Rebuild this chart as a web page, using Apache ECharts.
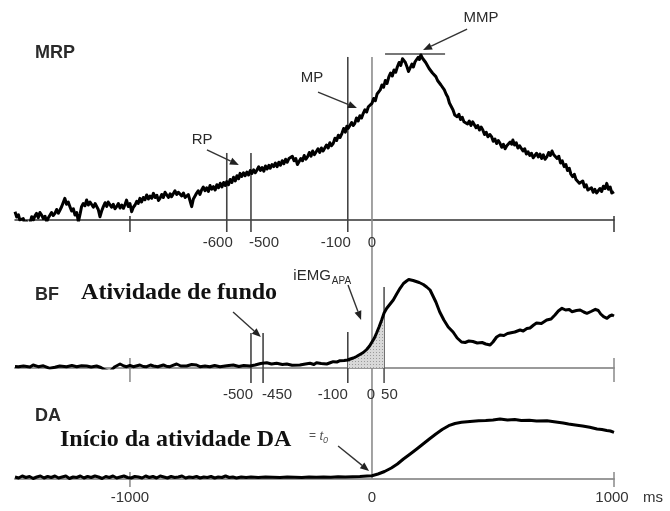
<!DOCTYPE html>
<html><head><meta charset="utf-8">
<script src="https://cdn.jsdelivr.net/npm/echarts@6/dist/echarts.min.js"></script>
<style>html,body{margin:0;padding:0;background:#fff}#c{width:670px;height:511px}</style>
</head><body><div id="c"></div>
<script>
// ---------- DATA (time in ms, amplitude in arbitrary units) ----------
const timeMin = -1475, timeMax = 1000;
const frameTicks = [-1000, 1000];

const mrpData = [[-1475,0.55],[-1468,0.2],[-1461,0.35],[-1455,0.0],[-1448,-0.1],[-1441,0.1],[-1434,-0.33],[-1427,-0.1],[-1420,-0.87],[-1413,-0.2],[-1406,0.22],[-1399,0.0],[-1392,0.3],[-1386,0.44],[-1379,0.15],[-1372,0.5],[-1365,0.33],[-1358,0.1],[-1351,0.25],[-1344,-0.11],[-1337,0.15],[-1331,0.22],[-1324,0.5],[-1317,0.3],[-1310,0.44],[-1303,0.7],[-1296,0.45],[-1289,0.67],[-1282,0.9],[-1275,0.8],[-1269,1.44],[-1262,1.05],[-1255,1.2],[-1248,0.89],[-1241,0.6],[-1234,0.75],[-1227,0.33],[-1220,0.5],[-1213,-0.11],[-1206,0.4],[-1200,0.89],[-1193,1.1],[-1186,0.95],[-1179,1.33],[-1172,1.0],[-1165,1.2],[-1158,1.11],[-1151,0.85],[-1144,1.1],[-1138,1.0],[-1131,0.7],[-1124,0.22],[-1117,0.6],[-1110,0.89],[-1103,1.15],[-1096,0.9],[-1090,1.2],[-1083,1.11],[-1076,0.85],[-1069,1.05],[-1062,0.75],[-1055,0.89],[-1048,1.1],[-1041,0.8],[-1034,1.0],[-1027,0.78],[-1020,1.05],[-1014,1.33],[-1007,0.9],[-1000,1.1],
[-993,0.55],[-986,0.85],[-979,1.0],[-972,1.25],[-966,1.1],[-959,1.44],[-952,1.2],[-945,1.5],[-938,1.35],[-931,1.67],[-924,1.4],[-917,1.6],[-910,1.45],[-903,1.78],[-896,1.5],[-889,1.65],[-882,1.3],[-876,1.44],[-869,1.7],[-862,1.5],[-855,1.85],[-848,1.78],[-841,1.5],[-834,1.75],[-828,1.55],[-821,1.67],[-814,1.95],[-807,1.7],[-800,1.85],[-793,1.89],[-786,1.6],[-779,1.8],[-772,1.5],[-766,1.44],[-759,1.7],[-752,1.3],[-745,0.89],[-738,1.4],[-731,1.6],[-725,1.78],[-718,1.95],[-711,1.7],[-704,2.0],
[-697,2.2],[-690,1.95],[-683,2.15],[-676,1.9],[-669,2.3],[-662,2.05],[-655,2.22],[-648,2.0],[-641,2.35],[-634,2.15],[-627,2.45],[-620,2.2],[-613,2.5],[-606,2.3],[-600,2.56],[-593,2.35],[-586,2.7],[-579,2.5],[-572,2.85],[-565,2.6],[-558,2.95],[-551,2.75],[-545,3.11],
[-538,2.9],[-531,3.15],[-524,2.95],[-517,3.2],[-510,3.0],[-503,3.3],[-496,3.1],[-489,3.35],[-482,3.15],[-475,3.33],[-468,3.55],[-461,3.3],[-454,3.5],[-447,3.25],[-440,3.6],[-433,3.4],[-426,3.65],[-420,3.45],[-413,3.7],[-406,3.56],[-399,3.8],[-392,3.55],[-385,3.85],[-378,3.65],[-371,3.95],[-364,3.75],[-357,4.05],[-350,3.85],[-343,4.1],[-336,4.0],[-329,4.25],[-322,3.95],[-315,4.1],[-308,3.7],[-301,3.78],
[-294,4.1],[-287,3.95],[-280,4.3],[-273,4.05],[-266,4.22],[-259,4.5],[-252,4.25],[-245,4.6],[-238,4.35],[-230,4.44],[-223,4.75],[-216,4.5],[-209,4.8],[-202,4.6],[-195,4.67],[-188,5.0],[-181,4.8],[-174,5.15],[-167,4.95],[-160,5.11],[-153,5.45],[-146,5.3],[-139,5.65],[-132,5.5],[-124,5.78],[-117,6.1],[-110,5.85],[-104,6.25],[-98,6.11],[-91,6.05],[-84,6.5],[-77,6.3],[-71,6.44],[-64,6.8],[-57,6.6],[-50,6.95],[-43,6.8],[-36,7.11],[-29,7.35],[-22,7.2],[-15,7.55],[-8,7.45],[0,7.78],
[7,8.1],[14,7.95],[21,8.4],[28,8.3],[34,8.67],[41,9.0],[48,8.85],[55,9.3],[62,9.1],[70,9.56],[77,9.8],[84,9.6],[91,10.0],[98,9.85],[105,10.22],[112,10.5],[119,10.3],[126,10.75],[132,10.78],[138,10.5],[145,10.2],[151,9.9],[158,10.0],[165,10.4],[171,10.2],[178,10.55],[185,10.67],[191,10.85],[196,10.7],[202,11.0],
[208,10.8],[215,10.85],[222,10.5],[229,10.44],[236,10.1],[243,10.2],[250,9.8],[257,9.85],[264,9.56],[271,9.3],[278,9.4],[285,9.0],[292,9.05],[299,8.67],[306,8.4],[313,8.2],[320,7.8],[328,7.7],[335,7.33],[342,7.0],[352,6.89],[359,7.05],[366,6.7],[373,6.85],[380,6.55],[388,6.67],[395,6.4],[402,6.6],[409,6.3],[416,6.55],[423,6.44],[430,6.15],[437,6.3],[444,6.0],[451,6.2],[458,6.0],[465,5.7],[472,5.85],[479,5.55],[487,5.7],[494,5.56],[501,5.25],[508,5.4],[515,5.1],[522,5.3],[529,5.11],[536,4.85],[543,5.05],[550,4.75],[557,4.95],[564,4.89],[571,5.2],[577,5.05],[582,5.33],[589,5.0],[596,5.15],[603,4.8],[610,4.95],[617,4.89],[624,4.6],[631,4.75],[638,4.4],[645,4.55],[652,4.3],[659,4.45],[666,4.15],[673,4.22],[680,4.45],[687,4.2],[694,4.4],[701,4.1],[708,4.35],[715,4.05],[723,4.22],[730,4.5],[737,4.3],[744,4.6],[751,4.35],[758,4.44],[765,4.1],[772,4.25],[779,3.8],[786,3.95],[794,3.56],[801,3.7],[808,3.3],[815,3.45],[822,3.05],[829,2.89],[836,3.05],[843,2.7],[850,2.8],[857,2.45],[864,2.44],[871,2.6],[878,2.2],[885,2.35],[892,2.0],[900,2.0],[907,2.15],[914,1.85],[921,2.05],[928,1.8],[935,1.89],[942,2.1],[949,1.9],[956,2.25],[963,2.1],[970,2.44],[977,2.05],[984,2.2],[991,1.8],[1000,1.89]];

const bfData = [[-1475,0.15],[-1461,0.13],[-1440,0.2],[-1413,0.1],[-1400,0.3],[-1379,0.13],[-1358,0.22],[-1331,-0.03],[-1310,0.07],[-1290,0.2],[-1262,0.13],[-1240,0.25],[-1220,0.12],[-1200,0.22],[-1179,0.2],[-1160,0.1],[-1138,0.2],[-1120,0.05],[-1103,-0.2],[-1083,-0.35],[-1062,0.13],[-1041,0.4],[-1025,0.2],[-1014,0.13],[-1000,0.25],[-986,0.13],[-959,0.3],[-945,0.15],[-931,0.13],[-915,0.3],[-903,0.2],[-885,0.12],[-862,0.3],[-850,0.18],[-835,0.13],[-820,0.28],[-807,0.4],[-790,0.2],[-766,0.2],[-745,0.35],[-725,0.3],[-711,0.13],[-690,0.2],[-670,0.12],[-650,0.25],[-628,0.13],[-600,0.22],[-573,0.3],[-550,0.15],[-530,0.25],[-504,0.2],[-483,0.3],[-460,0.45],[-435,0.53],[-415,0.4],[-394,0.47],[-370,0.35],[-352,0.4],[-330,0.28],[-298,0.3],[-275,0.4],[-256,0.47],[-240,0.35],[-229,0.53],[-210,0.45],[-187,0.4],[-170,0.55],[-160,0.63],[-145,0.6],[-132,0.73],[-115,0.75],[-100,0.8],[-90,0.9],[-77,1.0],[-64,1.15],[-50,1.35],[-36,1.55],[-22,1.85],[-10,2.2],[0,2.6],[10,3.0],[19,3.5],[30,4.15],[40,4.8],[50,5.5],[61,5.97],[75,6.4],[88,6.8],[102,7.4],[116,7.97],[130,8.45],[143,8.7],[152,8.85],[160,8.8],[170,8.75],[178,8.6],[195,8.55],[212,8.35],[226,8.1],[240,7.8],[252,7.2],[264,6.6],[280,5.6],[297,4.8],[315,4.1],[335,3.6],[352,3.0],[370,2.6],[385,2.55],[400,2.7],[417,2.65],[435,2.5],[455,2.55],[470,2.4],[488,2.3],[500,2.6],[515,3.1],[529,3.3],[545,3.25],[560,3.45],[570,3.5],[590,3.6],[612,3.8],[625,3.7],[640,3.95],[653,4.0],[668,4.3],[680,4.5],[700,4.45],[722,4.8],[740,4.9],[756,5.3],[770,5.7],[785,5.97],[800,5.8],[815,5.85],[826,5.63],[845,5.75],[860,5.8],[875,5.6],[888,5.47],[905,5.65],[923,5.87],[935,5.75],[945,5.4],[957,5.13],[965,5.05],[971,4.97],[982,5.2],[992,5.3],[1000,5.2]];

const daData = [[-1475,0.2],[-1460,0.1],[-1445,0.3],[-1430,0.15],[-1415,0.25],[-1400,0.05],[-1385,0.2],[-1370,0.3],[-1355,0.1],[-1340,0.25],[-1325,0.15],[-1310,0.3],[-1295,0.1],[-1280,0.2],[-1265,0.3],[-1250,0.05],[-1235,0.2],[-1220,0.15],[-1205,0.3],[-1190,0.1],[-1175,0.25],[-1160,0.15],[-1145,0.3],[-1130,0.2],[-1115,0.05],[-1100,0.25],[-1085,0.15],[-1070,0.3],[-1055,0.1],[-1040,0.2],[-1025,0.3],[-1010,0.15],[-995,0.1],[-980,0.25],[-965,0.2],[-950,0.1],[-935,0.3],[-920,0.15],[-905,0.25],[-890,0.1],[-875,0.3],[-860,0.2],[-845,0.1],[-830,0.25],[-815,0.15],[-800,0.2],[-785,0.3],[-770,0.1],[-755,0.2],[-740,0.15],[-725,0.25],[-710,0.1],[-695,0.2],[-680,0.15],[-665,0.25],[-650,0.1],[-635,0.2],[-620,0.15],[-605,0.3],[-590,0.15],[-575,0.2],[-560,0.1],[-540,0.2],[-520,0.15],[-500,0.2],[-470,0.15],[-440,0.2],[-410,0.18],[-380,0.15],[-350,0.2],[-320,0.18],[-290,0.15],[-260,0.2],[-230,0.17],[-200,0.2],[-170,0.18],[-140,0.22],[-110,0.2],[-80,0.22],[-50,0.25],[-20,0.3],[0,0.33],[25,0.5],[52,0.75],[80,1.1],[105,1.5],[130,2.0],[158,2.5],[185,3.0],[211,3.5],[237,4.0],[264,4.5],[290,4.95],[317,5.33],[343,5.55],[370,5.67],[405,5.75],[441,5.83],[470,5.85],[500,5.9],[529,6.0],[560,5.9],[590,5.95],[617,5.85],[650,5.88],[680,5.8],[723,5.83],[760,5.7],[790,5.6],[812,5.5],[840,5.4],[870,5.3],[900,5.17],[930,5.0],[950,4.95],[970,4.85],[985,4.8],[1000,4.67]];

const mrpMarkers = [-600, -500, -100, 0];
const mrpMarkerLabels = ['-600', '-500', '-100', '0'];
const bfMarkers = [-500, -450, -100, 0, 50];
const bfMarkerLabels = ['-500', '-450', '-100', '0', '50'];
const daTicks = [-1000, 0, 1000];
const daTickLabels = ['-1000', '0', '1000'];
const apaWindow = [-100, 50];
const mmpLevel = 11.07;
const mmpSpan = [54, 302];

// ---------- STYLE / ANNOTATION LAYOUT ----------
const SANS = '"Liberation Sans", Arial, sans-serif';
const SERIF = '"Liberation Serif", "Times New Roman", serif';
const DARK = '#2a2a2a';
const LABEL_SIZE = 15;

function coordSeg(api, a, b, color, w) {
  const p = api.coord(a), q = api.coord(b);
  return { type: 'line', shape: { x1: p[0], y1: p[1], x2: q[0], y2: q[1] }, style: { stroke: color, lineWidth: w } };
}
function pixSeg(x1, y1, x2, y2, color, w) {
  return { type: 'line', shape: { x1, y1, x2, y2 }, style: { stroke: color, lineWidth: w } };
}
function arrow(api, a, b) {
  const p = api.coord(a), q = api.coord(b);
  const dx = q[0] - p[0], dy = q[1] - p[1], L = Math.hypot(dx, dy), ux = dx / L, uy = dy / L;
  const hl = 9, hw = 3.6, bx = q[0] - ux * hl, by = q[1] - uy * hl;
  return [
    { type: 'line', shape: { x1: p[0], y1: p[1], x2: bx, y2: by }, style: { stroke: '#333', lineWidth: 1.4 } },
    { type: 'polygon', shape: { points: [[q[0], q[1]], [bx - uy * hw, by + ux * hw], [bx + uy * hw, by - ux * hw]] }, style: { fill: '#222' } }
  ];
}
function txt(x, y, text, o) {
  return { type: 'text', style: Object.assign({ text, x, y, fill: DARK, fontFamily: SANS, fontSize: LABEL_SIZE, align: 'center', verticalAlign: 'middle' }, o || {}) };
}
const measureCtx = document.createElement('canvas').getContext('2d');
function textW(t, font) { measureCtx.font = font; return measureCtx.measureText(t).width; }

function frameTicksEls(api, up, down, color) {
  return frameTicks.map(t => { const p = api.coord([t, 0]); return pixSeg(p[0], p[1] - up, p[0], p[1] + down, color, 1.5); });
}
function markerLabels(api, values, labels, dy, layout) {
  return values.map((t, i) => {
    const p = api.coord([t, 0]);
    const l = layout[i];
    return txt(p[0] + l.dx, p[1] + dy, labels[i], { align: l.align, fill: '#333' });
  });
}

function renderMRP(params, api) {
  const ch = [];
  const tops = [4.47, 4.47, 10.87];
  [0, 1, 2].forEach(i => ch.push(coordSeg(api, [mrpMarkers[i], tops[i]], [mrpMarkers[i], -0.8], '#444', 1.6)));
  ch.push(coordSeg(api, [0, 10.87], [0, -3.2], '#8c8c8c', 1.6));
  ch.push(coordSeg(api, [mmpSpan[0], mmpLevel], [mmpSpan[1], mmpLevel], '#777', 2));
  ch.push(...frameTicksEls(api, 4, 12, '#333'));
  ch.push(...markerLabels(api, mrpMarkers, mrpMarkerLabels, 23, [
    { dx: 6, align: 'right' }, { dx: -2, align: 'left' }, { dx: -12, align: 'center' }, { dx: 0, align: 'center' }]));
  let p = api.coord([-1392, 11.13]);
  ch.push(txt(p[0], p[1], 'MRP', { align: 'left', fontWeight: 'bold', fontSize: 18 }));
  p = api.coord([-702, 5.33]); ch.push(txt(p[0], p[1], 'RP'));
  p = api.coord([-248, 9.47]); ch.push(txt(p[0], p[1], 'MP'));
  p = api.coord([450, 13.47]); ch.push(txt(p[0], p[1], 'MMP'));
  ch.push(...arrow(api, [-682, 4.67], [-550, 3.67]));
  ch.push(...arrow(api, [-223, 8.53], [-62, 7.47]));
  ch.push(...arrow(api, [393, 12.73], [211, 11.33]));
  return { type: 'group', children: ch };
}
function renderBF(params, api) {
  const ch = [];
  const tops = [3.5, 3.5, 3.6, 8.1];
  [0, 1, 2].forEach(i => ch.push(coordSeg(api, [bfMarkers[i], tops[i]], [bfMarkers[i], -1.5], '#444', 1.6)));
  ch.push(coordSeg(api, [bfMarkers[4], tops[3]], [bfMarkers[4], -1.5], '#555', 1.6));
  ch.push(coordSeg(api, [0, 10], [0, -4.1], '#8c8c8c', 1.6));
  ch.push(...frameTicksEls(api, 10, 14, '#888'));
  ch.push(...markerLabels(api, bfMarkers, bfMarkerLabels, 27, [
    { dx: 2, align: 'right' }, { dx: -1, align: 'left' }, { dx: -15, align: 'center' }, { dx: -1, align: 'center' }, { dx: -3, align: 'left' }]));
  let p = api.coord([-1392, 7.3]);
  ch.push(txt(p[0], p[1], 'BF', { align: 'left', fontWeight: 'bold', fontSize: 18 }));
  p = api.coord([-1202, 7.5]);
  ch.push(txt(p[0], p[1], 'Atividade de fundo', { align: 'left', fontWeight: 'bold', fontSize: 24, fontFamily: SERIF, fill: '#111' }));
  ch.push(...arrow(api, [-574, 5.6], [-459, 3.1]));
  p = api.coord([-325, 9.2]);
  const w1 = textW('iEMG', LABEL_SIZE + 'px ' + SANS);
  ch.push(txt(p[0], p[1], 'iEMG', { align: 'left' }));
  ch.push(txt(p[0] + w1 + 1, p[1] + 5, 'APA', { align: 'left', fontSize: 10 }));
  ch.push(...arrow(api, [-99, 8.3], [-45, 4.8]));
  return { type: 'group', children: ch };
}
function renderDA(params, api) {
  const ch = [];
  ch.push(coordSeg(api, [0, 7], [0, 0], '#8c8c8c', 1.6));
  ch.push(...frameTicksEls(api, 7, 8, '#888'));
  ch.push(...markerLabels(api, daTicks, daTickLabels, 19, [
    { dx: 0, align: 'center' }, { dx: 0, align: 'center' }, { dx: -2, align: 'center' }]));
  let p = api.coord([timeMax, 0]);
  ch.push(txt(p[0] + 29, p[1] + 19, 'ms', { align: 'left', fill: '#333' }));
  p = api.coord([-1392, 6.3]);
  ch.push(txt(p[0], p[1], 'DA', { align: 'left', fontWeight: 'bold', fontSize: 18 }));
  p = api.coord([-1289, 3.9]);
  ch.push(txt(p[0], p[1], 'Início da atividade DA', { align: 'left', fontWeight: 'bold', fontSize: 24, fontFamily: SERIF, fill: '#111' }));
  p = api.coord([-260, 4.3]);
  const we = textW('= ', '12px ' + SANS);
  ch.push(txt(p[0], p[1], '= ', { align: 'left', fontSize: 12, fill: '#555' }));
  const wt = textW('t', 'italic 13px ' + SANS);
  ch.push(txt(p[0] + we, p[1], 't', { align: 'left', fontSize: 13, fontStyle: 'italic', fill: '#555' }));
  ch.push(txt(p[0] + we + wt, p[1] + 4, '0', { align: 'left', fontSize: 9, fontStyle: 'italic', fill: '#555' }));
  ch.push(...arrow(api, [-140, 3.3], [-12, 0.8]));
  return { type: 'group', children: ch };
}

// dotted pattern for the iEMG_APA area
const pat = document.createElement('canvas'); pat.width = 3; pat.height = 3;
const pc = pat.getContext('2d'); pc.fillStyle = '#d8d8d8'; pc.fillRect(0, 0, 3, 3); pc.fillStyle = '#9a9a9a'; pc.fillRect(1, 1, 1, 1);

const grids = [
  { left: 15, width: 599, top: 40, height: 180 },
  { left: 15, width: 599, top: 268, height: 100 },
  { left: 15, width: 599, top: 409, height: 70 }
];
const axisColors = ['#333', '#9a9a9a', '#9a9a9a'];
const yMax = [12, 10, 7];

const chart = echarts.init(document.getElementById('c'), null, { renderer: 'canvas' });
chart.setOption({
  animation: false,
  backgroundColor: '#fff',
  grid: grids,
  xAxis: grids.map((g, i) => ({
    type: 'value', gridIndex: i, min: timeMin, max: timeMax,
    axisLine: { show: true, onZero: false, lineStyle: { color: axisColors[i], width: i === 0 ? 1.5 : 2 } },
    axisTick: { show: false }, axisLabel: { show: false }, splitLine: { show: false }
  })),
  yAxis: grids.map((g, i) => ({ type: 'value', gridIndex: i, min: 0, max: yMax[i], show: false })),
  series: [
    { type: 'custom', xAxisIndex: 0, yAxisIndex: 0, data: [[0, 0]], renderItem: renderMRP, silent: true, z: 1 },
    { type: 'custom', xAxisIndex: 1, yAxisIndex: 1, data: [[0, 0]], renderItem: renderBF, silent: true, z: 1 },
    { type: 'custom', xAxisIndex: 2, yAxisIndex: 2, data: [[0, 0]], renderItem: renderDA, silent: true, z: 1 },
    { type: 'line', xAxisIndex: 1, yAxisIndex: 1, z: 2, showSymbol: false, silent: true,
      data: bfData.filter(d => d[0] >= apaWindow[0] && d[0] <= apaWindow[1]),
      lineStyle: { width: 0 }, areaStyle: { color: { image: pat, repeat: 'repeat' }, origin: 'start', opacity: 1 } },
    { type: 'line', xAxisIndex: 0, yAxisIndex: 0, z: 3, showSymbol: false, silent: true, data: mrpData,
      lineStyle: { color: '#000', width: 3, join: 'round' } },
    { type: 'line', xAxisIndex: 1, yAxisIndex: 1, z: 3, showSymbol: false, silent: true, data: bfData,
      lineStyle: { color: '#000', width: 3, join: 'round' } },
    { type: 'line', xAxisIndex: 2, yAxisIndex: 2, z: 3, showSymbol: false, silent: true, data: daData,
      lineStyle: { color: '#000', width: 3, join: 'round' } }
  ]
});
</script>
</body></html>
